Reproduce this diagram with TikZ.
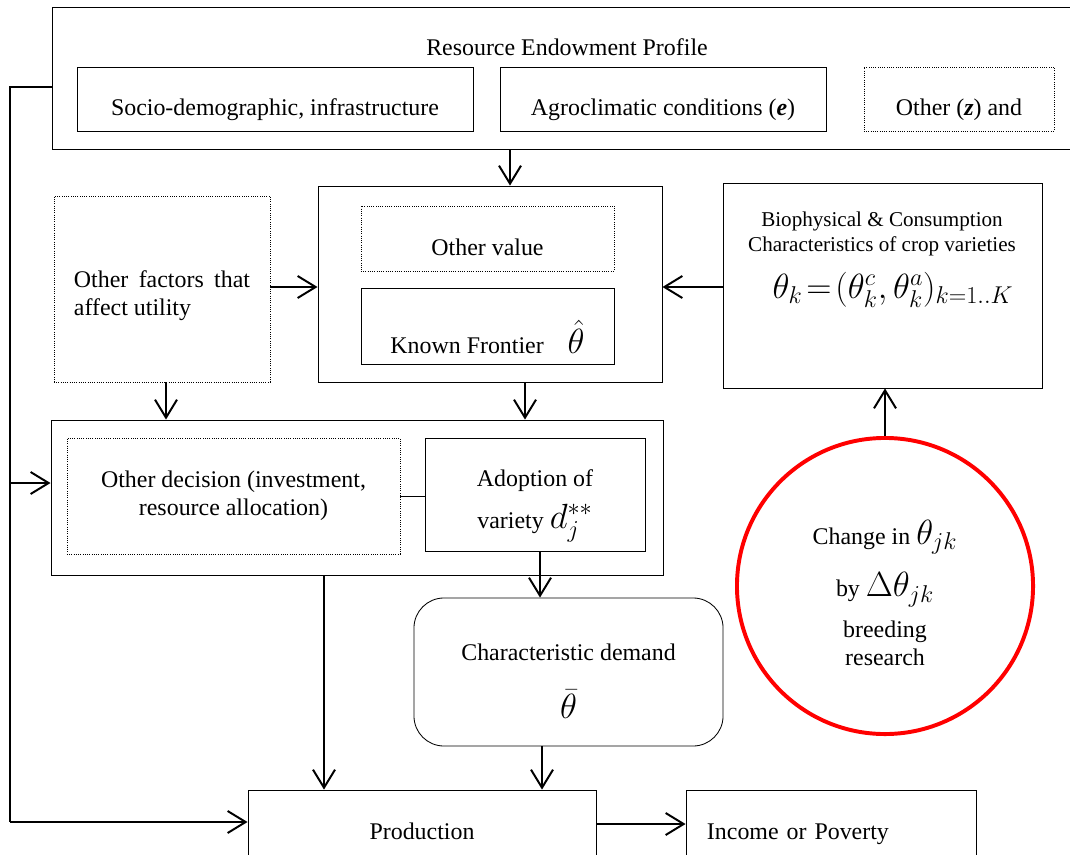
\documentclass[tikz,border=0pt]{standalone}
\usepackage{fontspec}
\setmainfont{Liberation Serif}
\usepackage{amsmath}
\usetikzlibrary{positioning,arrows.meta,calc}

\begin{document}
\begin{tikzpicture}[
    x=0.025cm, y=-0.025cm,
    every node/.style={font=\fontsize{17}{20}\selectfont, align=center},
    box/.style={rectangle, draw, line width=0.6pt, inner sep=0pt},
    dotbox/.style={box, densely dotted},
    arr/.style={-{Straight Barb[length=4.5mm,width=5.5mm]}, line width=1.4pt},
    feed/.style={line width=0.8pt}
  ]
\useasboundingbox (0,0) rectangle (1070,854);

\node[box, minimum width=25.7cm, minimum height=3.55cm] (res) at (567,78) {};
\node (restitle) at (567,47) {Resource Endowment Profile};
\node[box, minimum width=9.9cm, minimum height=1.6cm, label={[yshift=-7.5pt]center:Socio-demographic, infrastructure}] (socio) at (275,99) {};
\node[box, minimum width=8.15cm, minimum height=1.6cm, label={[yshift=-7.5pt]center:Agroclimatic conditions (\textbf{\textit{e}})}] (agro) at (663,99) {};
\node[dotbox, minimum width=4.75cm, minimum height=1.6cm, label={[yshift=-7.5pt]center:Other (\textbf{\textit{z}}) and}] (otherz) at (959,99) {};

\node[box, minimum width=8.6cm, minimum height=4.9cm] (util) at (490,284) {};
\node[dotbox, minimum width=6.325cm, minimum height=1.625cm, label={[yshift=-6.4pt]center:Other value}] (othval) at (487.5,238.5) {};
\node[box, minimum width=6.325cm, minimum height=1.9cm, label={[yshift=-8pt]center:Known Frontier\quad{\fontsize{24}{24}\selectfont$\hat{\theta}$}}] (front) at (487.5,326) {};

\node[dotbox, minimum width=5.4cm, minimum height=4.65cm, label={[yshift=-5pt, text width=4.4cm, align=justify]center:Other factors that affect utility}] (othfac) at (162,289) {};

\node[box, minimum width=7.975cm, minimum height=5.125cm] (bio) at (882.5,285.5) {};
\node[font=\fontsize{15}{18}\selectfont] (biotxt) at (882,234) {Biophysical \& Consumption\\Characteristics of crop varieties};
\node (biomath) at (893,290) {\fontsize{24}{24}\selectfont$\theta_k\!=\!(\theta_k^c,\theta_k^a)_{k=1..K}$};

\node[box, minimum width=15.3cm, minimum height=3.875cm] (dec) at (357,497.5) {};
\node[dotbox, minimum width=8.325cm, minimum height=2.9cm] (othdec) at (233.5,496) {Other decision (investment,\\resource allocation)};
\node[box, minimum width=5.5cm, minimum height=2.825cm, label={[yshift=-8pt]center:Adoption of\\[8pt]variety {\fontsize{24}{24}\selectfont$d_j^{**}$}}] (adopt) at (535,494.5) {};

\node[box, rounded corners=0.75cm, minimum width=7.725cm, minimum height=3.7cm, label={[yshift=-6.4pt]center:Characteristic demand\\[20pt]{\fontsize{24}{24}\selectfont$\bar{\theta}$}}] (dem) at (568.5,672) {};

\node[circle, draw=red, line width=2.8pt, minimum size=7.4cm, inner sep=0pt, label={[yshift=-5pt]center:Change in {\fontsize{24}{24}\selectfont$\theta_{jk}$}\\[12pt]by {\fontsize{24}{24}\selectfont$\Delta\theta_{jk}$}\\[9pt]breeding\\research}] (brd) at (885,586) {};

\node[box, minimum width=8.7cm, minimum height=2.05cm] (prod) at (422,831) {Production};
\node[box, minimum width=7.25cm, minimum height=2.05cm, label={[yshift=-2pt, text width=6.2cm, align=left]center:Income or Poverty}] (inc) at (831,831) {};

\coordinate (lt) at (10,87);
\coordinate (lm) at (10,483);
\coordinate (lb) at (10,822);
\coordinate (xa) at (510,0);
\coordinate (xb) at (166,0);
\coordinate (xc) at (525,0);
\coordinate (xd) at (540,0);
\coordinate (xe) at (324,0);
\coordinate (xf) at (542,0);
\coordinate (ya) at (0,287);
\coordinate (yb) at (0,496);
\coordinate (yc) at (0,824);

\draw[feed] (res.west |- lt) -- (lt) -- (lb);
\draw[arr] (lb) -- (prod.west |- lb);
\draw[arr] (lm) -- (dec.west |- lm);
\draw[arr] (res.south -| xa) -- (util.north -| xa);
\draw[arr] (othfac.east |- ya) -- (util.west |- ya);
\draw[arr] (bio.west |- ya) -- (util.east |- ya);
\draw[arr] (othfac.south -| xb) -- (dec.north -| xb);
\draw[arr] (util.south -| xc) -- (dec.north -| xc);
\draw[line width=0.6pt] (othdec.east |- yb) -- (adopt.west |- yb);
\draw[arr] (adopt.south -| xd) -- (dem.north -| xd);
\draw[arr] (dec.south -| xe) -- (prod.north -| xe);
\draw[arr] (dem.south -| xf) -- (prod.north -| xf);
\draw[arr] (brd.north) -- (bio.south -| brd.north);
\draw[arr] (prod.east |- yc) -- (inc.west |- yc);

\end{tikzpicture}
\end{document}
